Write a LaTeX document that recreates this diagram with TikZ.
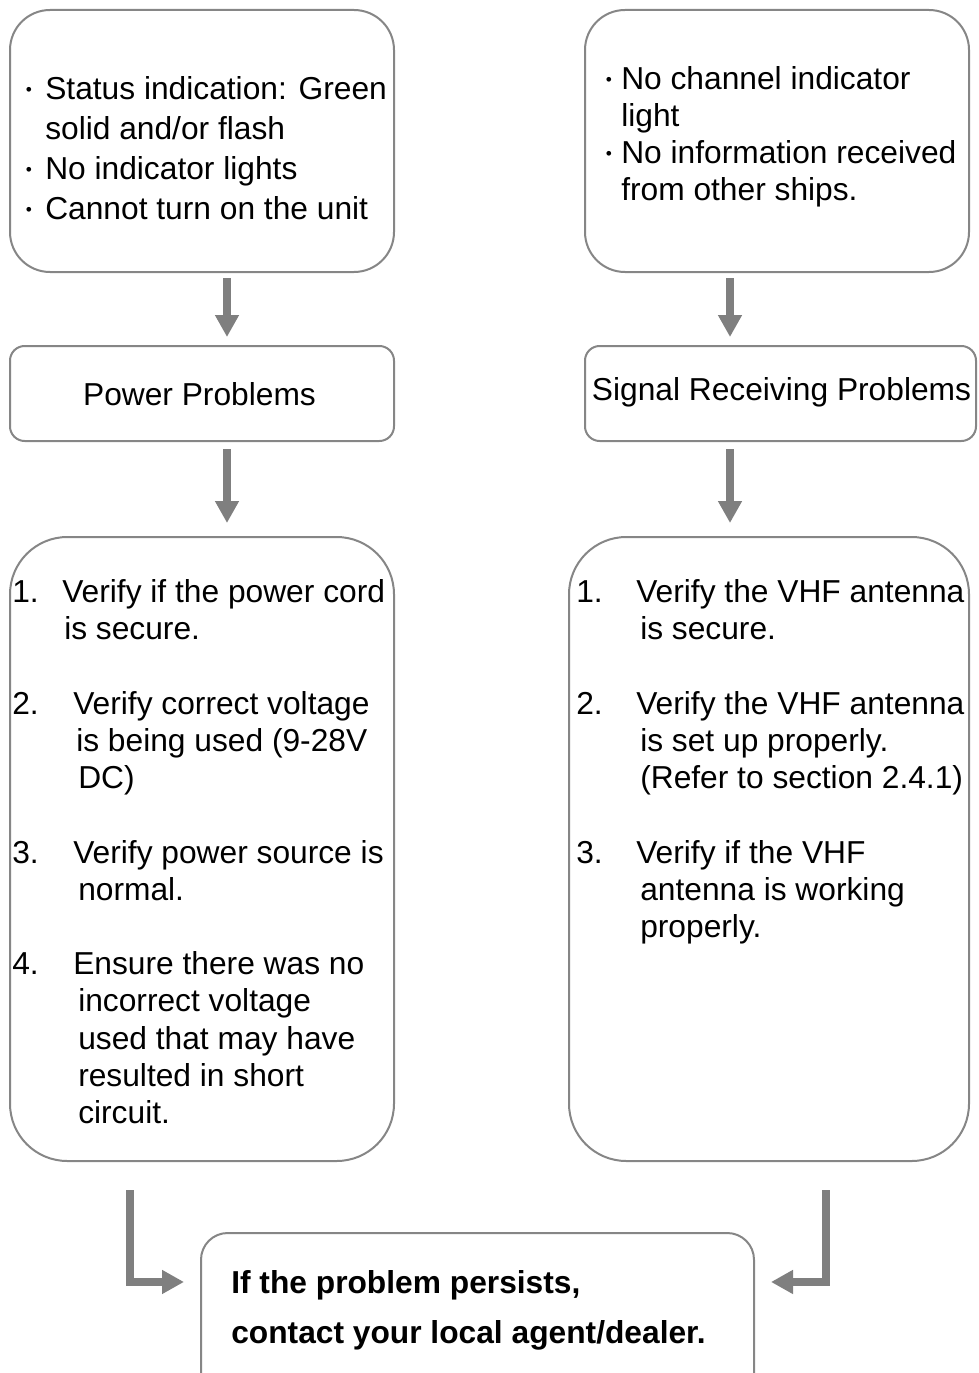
\documentclass[tikz,border=0pt]{standalone}
\usepackage{fontspec}
\setmainfont{Liberation Sans}
\usetikzlibrary{arrows.meta}
\definecolor{linegray}{HTML}{868686}
\definecolor{arrowgray}{HTML}{7F7F7F}
\newcommand{\fs}{\fontsize{23.8pt}{28pt}\selectfont}
\tikzset{
  box/.style={draw=linegray, line width=1.5pt, fill=white, inner sep=0pt},
  txt/.style={anchor=base west, inner sep=0pt, font=\fs},
  dot/.style={anchor=base, inner sep=0pt, font=\fontsize{13pt}{13pt}\selectfont},
  ctxt/.style={anchor=base, inner sep=0pt, font=\fs},
  btxt/.style={anchor=base west, inner sep=0pt, font=\fs\bfseries},
  flow/.style={draw=arrowgray, line width=6pt, -{Triangle[width=17pt,length=16.5pt]}},
}
\begin{document}
\begin{tikzpicture}[x=0.75pt,y=-0.75pt]
\useasboundingbox (0,0) rectangle (978,1373);
\clip (0,0) rectangle (978,1373);
% boxes
\node[box, rounded corners=30pt, minimum width=288pt, minimum height=196.5pt] (b1) at (202,141) {};
\node[box, rounded corners=30pt, minimum width=288pt, minimum height=196.5pt] (b2) at (777,141) {};
\node[box, rounded corners=11pt, minimum width=288pt, minimum height=71.25pt] (b3) at (202,393.5) {};
\node[box, rounded corners=11pt, minimum width=293.25pt, minimum height=71.25pt] (b4) at (780.5,393.5) {};
\node[box, rounded corners=43pt, minimum width=288pt, minimum height=468pt] (b5) at (202,849) {};
\node[box, rounded corners=43pt, minimum width=300pt, minimum height=468pt] (b6) at (769,849) {};
\node[box, rounded corners=20pt, minimum width=414.75pt, minimum height=125.25pt] (fin) at (477.5,1316.5) {};
% box 1 text
\node[dot] (d1) at (29,96) {\textbullet};
\node[txt] (t1a) at (45,100) {Status indication: Green};
\node[txt] (t1b) at (45,140) {solid and/or flash};
\node[dot] (d2) at (29,176) {\textbullet};
\node[txt] (t1c) at (45,180) {No indicator lights};
\node[dot] (d3) at (29,216) {\textbullet};
\node[txt] (t1d) at (45,220) {Cannot turn on the unit};
% box 2 text
\node[dot] (d4) at (609,86) {\textbullet};
\node[txt] (t2a) at (621,90) {No channel indicator};
\node[txt] (t2b) at (621,127) {light};
\node[dot] (d5) at (609,160) {\textbullet};
\node[txt] (t2c) at (621,164) {No information received};
\node[txt] (t2d) at (621,201) {from other ships.};
% box 3, 4 text
\node[ctxt] (t3) at (199.5,405) {Power Problems};
\node[ctxt] (t4) at (781.5,400) {Signal Receiving Problems};
% box 5 text
\node[txt] (n51) at (12,602) {1.};
\node[txt] (t5a) at (62,602) {Verify if the power cord};
\node[txt] (t5b) at (64,639) {is secure.};
\node[txt] (n52) at (12,714) {2.};
\node[txt] (t5c) at (73,714) {Verify correct voltage};
\node[txt] (t5d) at (76,751) {is being used (9-28V};
\node[txt] (t5e) at (78,788) {DC)};
\node[txt] (n53) at (12,863) {3.};
\node[txt] (t5f) at (73,863) {Verify power source is};
\node[txt] (t5g) at (78,900) {normal.};
\node[txt] (n54) at (12,974) {4.};
\node[txt] (t5h) at (73,974) {Ensure there was no};
\node[txt] (t5i) at (78,1011) {incorrect voltage};
\node[txt] (t5j) at (78,1049) {used that may have};
\node[txt] (t5k) at (78,1086) {resulted in short};
\node[txt] (t5l) at (78,1123) {circuit.};
% box 6 text
\node[txt] (n61) at (576,602) {1.};
\node[txt] (t6a) at (636,602) {Verify the VHF antenna};
\node[txt] (t6b) at (640,639) {is secure.};
\node[txt] (n62) at (576,714) {2.};
\node[txt] (t6c) at (636,714) {Verify the VHF antenna};
\node[txt] (t6d) at (640,751) {is set up properly.};
\node[txt] (t6e) at (640,788) {(Refer to section 2.4.1)};
\node[txt] (n63) at (576,863) {3.};
\node[txt] (t6f) at (636,863) {Verify if the VHF};
\node[txt] (t6g) at (640,900) {antenna is working};
\node[txt] (t6h) at (640,937) {properly.};
% final text
\node[btxt] (f1) at (231,1293) {If the problem persists,};
\node[btxt] (f2) at (231,1343) {contact your local agent/dealer.};
% connectors
\draw[flow, shorten <=3.75pt, shorten >=6pt] ([xshift=18.75pt]b1.south) -- ([xshift=18.75pt]b1.south |- b3.north);
\draw[flow, shorten <=5.25pt, shorten >=9.75pt] ([xshift=18.75pt]b3.south) -- ([xshift=18.75pt]b3.south |- b5.north);
\draw[flow, shorten <=3.75pt, shorten >=6pt] ([xshift=-35.25pt]b2.south) -- ([xshift=-35.25pt]b2.south |- b4.north);
\draw[flow, shorten <=5.25pt, shorten >=9.75pt] ([xshift=-35.25pt]b2.south |- b4.south) -- ([xshift=-35.25pt]b2.south |- b6.north);
\draw[flow, shorten <=21pt, shorten >=12pt] ([xshift=-54pt]b5.south) |- ([yshift=25.9pt]fin.west);
\draw[flow, shorten <=21pt, shorten >=12pt] ([xshift=42.75pt]b6.south) |- ([yshift=25.9pt]fin.east);
\end{tikzpicture}
\end{document}
